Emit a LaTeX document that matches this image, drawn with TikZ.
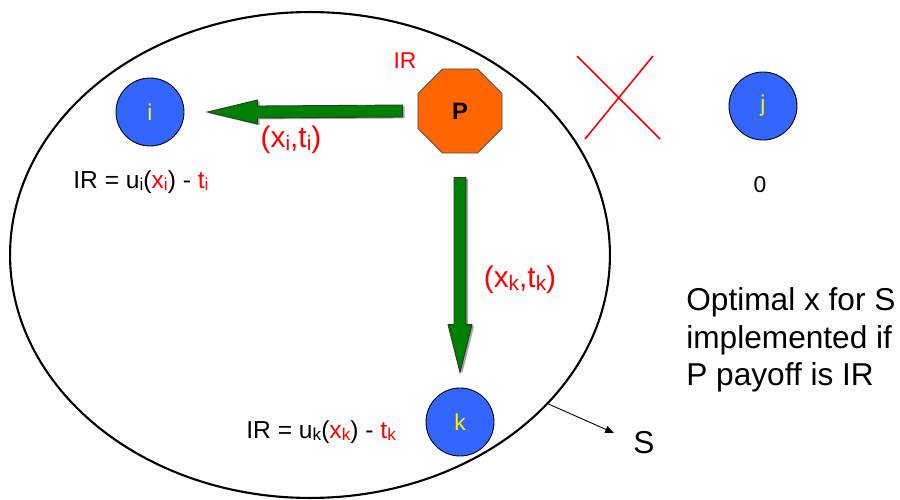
\documentclass[tikz,border=0pt]{standalone}
\usepackage{fontspec}
\usepackage{graphicx}
\setmainfont{Liberation Sans}
\usetikzlibrary{shapes.geometric,arrows.meta,calc,shadows}
\definecolor{agentblue}{RGB}{51,102,255}
\definecolor{principalorange}{RGB}{255,102,0}
\definecolor{arrowgreen}{RGB}{0,128,0}
\newcommand{\lo}[1]{\raisebox{-0.2ex}{\scalebox{0.7}{#1}}}
\begin{document}
\begin{tikzpicture}[x=0.02cm,y=-0.02cm,
  agent/.style={circle,draw=black,line width=0.5pt,fill=agentblue,minimum size=1.36cm,inner sep=0pt,text=yellow,font=\fontsize{13}{15}\selectfont},
  principal/.style={regular polygon,regular polygon sides=8,draw=black!70,line width=0.5pt,fill=principalorange,minimum size=1.82cm,inner sep=0pt,font=\fontsize{13.5}{15}\selectfont\bfseries},
  fatarrow/.style={fill=arrowgreen,draw=black!80,line width=0.5pt,drop shadow={shadow xshift=1.2pt,shadow yshift=-0.8pt,fill=black!35,opacity=1}},
  lbl/.style={inner sep=0pt,font=\fontsize{#1}{#1}\selectfont}]
\useasboundingbox (0,0) rectangle (900,500);
% the set S
\node[draw,ellipse,line width=1.2pt,minimum width=12cm,minimum height=9.72cm] (setS) at (310,255) {};
% agents and principal
\node[agent] (i) at (150,112) {i};
\node[principal] (P) at (460,111) {P};
\node[agent] (j) at (763,106) {j};
\node[agent] (k) at (460,422) {k};
% offers
\coordinate (hTail) at ($(P.west)+(-15,0)$);
\coordinate (hTip) at ($(i.east)+(23,0)$);
\filldraw[fatarrow] ($(hTail)+(0,-6)$) -- ($(hTip)+(50,-6)$) -- ($(hTip)+(50,-12)$) -- (hTip)
  -- ($(hTip)+(50,12)$) -- ($(hTip)+(50,6)$) -- ($(hTail)+(0,6)$) -- cycle;
\coordinate (vTail) at ($(P.south)+(0,24)$);
\coordinate (vTip) at ($(k.north)+(0,-15)$);
\filldraw[fatarrow] ($(vTail)+(-6,0)$) -- ($(vTip)+(-6,-48)$) -- ($(vTip)+(-12,-48)$) -- (vTip)
  -- ($(vTip)+(12,-48)$) -- ($(vTip)+(6,-48)$) -- ($(vTail)+(6,0)$) -- cycle;
% labels
\node[lbl=17,red] (xiti) at (291,140) {(x\lo{i},t\lo{i})};
\node[lbl=17,red] (xktk) at (520,280) {(x\lo{k},t\lo{k})};
\node[lbl=14,anchor=west] (IRi) at (73,182) {IR = u\lo{i}(\textcolor{red}{x\lo{i}}) - \textcolor{red}{t\lo{i}}};
\node[lbl=14,anchor=west] (IRk) at (246,432) {IR = u\lo{k}(\textcolor{red}{x\lo{k}}) - \textcolor{red}{t\lo{k}}};
\node[lbl=13,red] (IRP) at (405,61) {IR};
\node[lbl=13] (zero) at (760,185) {0};
\node[lbl=18,anchor=west] (S) at (633,443) {S};
\node[inner sep=0pt,align=left,anchor=west,font=\fontsize{18}{21.5}\selectfont] (note) at (686,340) {Optimal x for S\\implemented if\\P payoff is IR};
% pointer to S and crossed out j
\coordinate (sTip) at (614,433);
\draw[-{Triangle[length=5pt,width=4pt]},line width=0.5pt] (setS.-32) -- (sTip);
\draw[red,line width=0.9pt] (577,56) -- (660,139) (653,56) -- (585,139);
\end{tikzpicture}
\end{document}
